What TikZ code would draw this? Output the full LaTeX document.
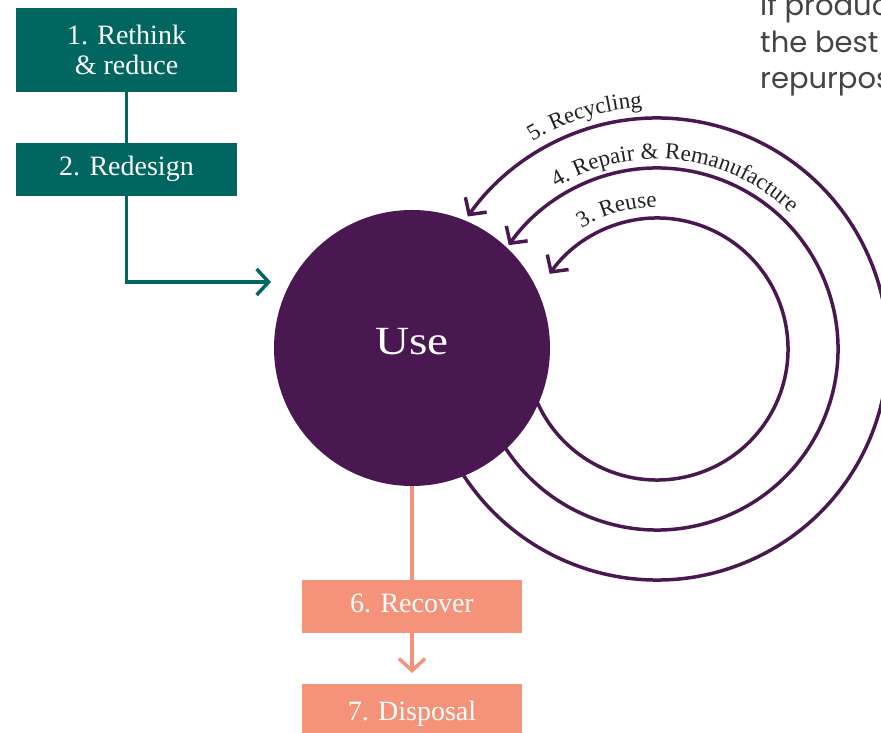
\documentclass[tikz,border=0pt]{standalone}
\usepackage{fontspec}
\usepackage{graphicx}
\setmainfont{Liberation Serif}
\newfontfamily\notefont{Poppins}
\usetikzlibrary{arrows.meta,decorations.text,calc}

\definecolor{stageteal}{HTML}{01665F}
\definecolor{usepurple}{HTML}{4A1850}
\definecolor{recoverpeach}{HTML}{F5937A}
\definecolor{labelink}{HTML}{222222}
\definecolor{notegrey}{HTML}{444444}

\newcommand{\arclabelfont}{\color{labelink}\fontsize{23}{23}\selectfont}

\tikzset{
  stagebox/.style={rectangle, inner sep=0pt, minimum width=221pt, text=white,
    font=\fontsize{28}{30}\selectfont},
  onelinebox/.style={stagebox, minimum height=53pt, text height=19pt, text depth=6pt},
  greenbox/.style={fill=stageteal},
  peachbox/.style={fill=recoverpeach},
  flowline/.style={line width=3.5pt},
  barb/.style={-{Straight Barb[length=12pt,width=26pt]}},
  loopline/.style={line width=3.5pt, draw=usepurple, barb},
  looplabel/.style={decorate, decoration={text along path, text align=left,
    text={|\arclabelfont|#1}}},
  notetext/.style={anchor=base west, inner sep=0pt, text=notegrey,
    font=\notefont\fontsize{29}{29}\selectfont},
}

\begin{document}
\begin{tikzpicture}[x=1pt,y=1pt]
\useasboundingbox (0,0) rectangle (881,733);
\begin{scope}
\clip (0,0) rectangle (881,733);

% note text running off the right edge
\node[notetext] (noteA) at (760,717) {If produc};
\node[notetext] (noteB) at (760,680) {the best};
\node[notetext] (noteC) at (760,644) {repurpose};

% design stages
\node[stagebox, greenbox, minimum height=84pt, align=center] (rethink) at (126.5,683)
  {1. Rethink\\\& reduce};
\node[onelinebox, greenbox] (redesign) at (126.5,563.5) {2. Redesign};

% end-of-life stages
\node[onelinebox, peachbox, minimum width=220pt] (recover) at (412,126.5) {6. Recover};
\node[stagebox, peachbox, minimum width=220pt, minimum height=60pt,
  text height=19pt, text depth=6pt] (disposal) at (412,19) {7. Disposal};

% centre of the return loops
\coordinate (loopc) at (657,384);
\coordinate (reuseStart)   at ($(loopc)+(195:131)$);
\coordinate (repairStart)  at ($(loopc)+(200:181)$);
\coordinate (recycleStart) at ($(loopc)+(205:231)$);

% return loops (drawn under the Use disc)
\draw[loopline] (reuseStart)   arc[start angle=195, end angle=505, radius=131];
\draw[loopline] (repairStart)  arc[start angle=200, end angle=505, radius=181];
\draw[loopline] (recycleStart) arc[start angle=205, end angle=505, radius=231];

% loop labels
\path[looplabel={3. Reuse}]
  ($(loopc)+(122:142)$) arc[start angle=122, end angle=20, radius=142];
\path[looplabel={4. Repair {\&} Remanufacture}]
  ($(loopc)+(122:190)$) arc[start angle=122, end angle=10, radius=190];
\path[looplabel={5. Recycling}]
  ($(loopc)+(121:242)$) arc[start angle=121, end angle=40, radius=242];

% use phase
\node[circle, fill=usepurple, minimum size=276pt, inner sep=0pt, text=white,
  font=\fontsize{40}{40}\selectfont, text height=26.5pt, text depth=12.5pt]
  (use) at (412,385) {\scalebox{1.18}[1]{Use}};

% connectors
\coordinate (useIn) at (271,451);
\coordinate (disposalIn) at (412,60);
\draw[flowline, stageteal] (rethink.south) -- (redesign.north);
\draw[flowline, stageteal, barb] (redesign.south) |- (useIn);
\draw[flowline, recoverpeach] (use.south) -- (recover.north);
\draw[flowline, recoverpeach, barb] (recover.south) -- (disposalIn);

\end{scope}
\end{tikzpicture}
\end{document}
